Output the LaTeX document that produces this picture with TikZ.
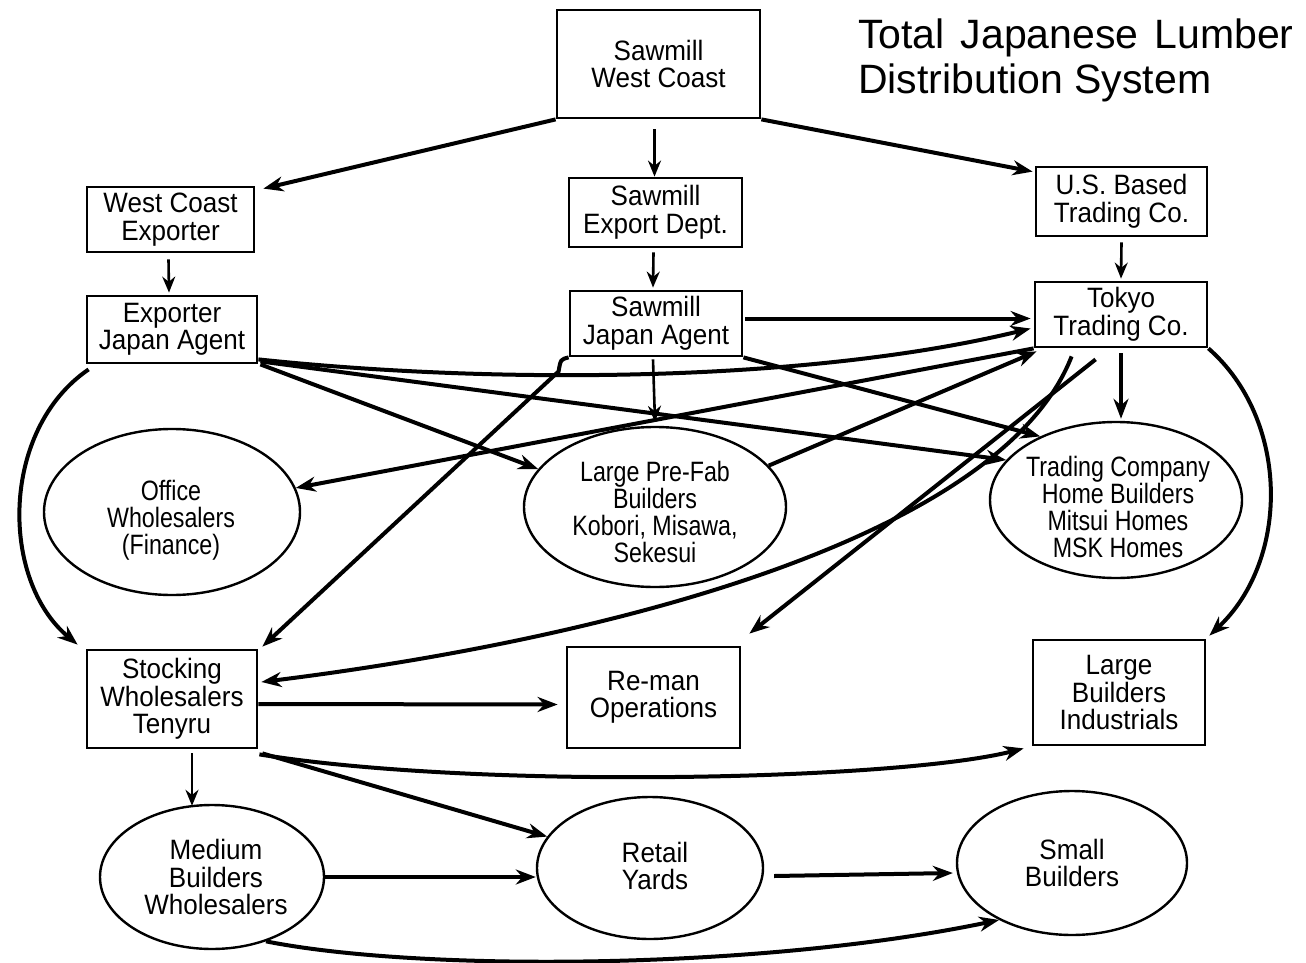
\documentclass[tikz,border=0pt]{standalone}
\usepackage{fontspec}
\setmainfont{Liberation Sans}
\newfontfamily\bxfamily{Liberation Sans}[FakeStretch=0.93]
\newfontfamily\cdfamily{Liberation Sans}[FakeStretch=0.83]
\newcommand\bxfont{\bxfamily\fontsize{28}{27.5}\selectfont}
\newcommand\cdfont{\cdfamily\fontsize{28}{27}\selectfont}
\newcommand\ttlfont{\fontsize{41}{45}\selectfont}
\usetikzlibrary{arrows.meta,calc,shapes.geometric}
\tikzset{
  boxnode/.style={draw, line width=2.8pt, rectangle, align=center, inner sep=0pt, font=\bxfont},
  ellnode/.style={draw, line width=2.4pt, ellipse, inner sep=0pt},
  elltext/.style={align=center, inner sep=0pt},
  conn/.style={line width=4pt, -{Stealth[length=20pt,width=15pt]}},
  thinconn/.style={line width=2.6pt, -{Stealth[length=16pt,width=13pt]}},
}
\begin{document}
\begin{tikzpicture}[x=1pt,y=-1pt]
\useasboundingbox[fill=white] (0,0) rectangle (1306,963);
% title
\node[anchor=north west, align=left, inner sep=0pt, font=\ttlfont] (title) at (858,19)
  {Total\hspace{16pt}Japanese\hspace{16pt}Lumber\\Distribution System};
% boxes
\node[boxnode, minimum width=203pt, minimum height=108pt] (sawWC) at (658.5,64) {Sawmill\\West Coast};
\node[boxnode, minimum width=167pt, minimum height=65pt] (wcExp) at (170.5,219.5) {West Coast\\Exporter};
\node[boxnode, minimum width=173pt, minimum height=69pt] (sawExp) at (655.5,212.5) {Sawmill\\Export Dept.};
\node[boxnode, minimum width=171pt, minimum height=69pt] (usTrade) at (1121.5,201.5) {U.S. Based\\Trading Co.};
\node[boxnode, minimum width=170pt, minimum height=67pt] (expJA) at (172,329.5) {Exporter\\Japan Agent};
\node[boxnode, minimum width=172pt, minimum height=65pt] (sawJA) at (656,323.5) {Sawmill\\Japan Agent};
\node[boxnode, minimum width=172pt, minimum height=65pt] (tokyo) at (1121,314.5) {Tokyo\\Trading Co.};
\node[boxnode, minimum width=170pt, minimum height=98pt] (stocking) at (172,699) {Stocking\\Wholesalers\\Tenyru};
\node[boxnode, minimum width=173pt, minimum height=101pt] (reman) at (653.5,697.5) {Re-man\\Operations};
\node[boxnode, minimum width=172pt, minimum height=105pt] (largeB) at (1119,692.5) {Large\\Builders\\Industrials};
% ellipses
\node[ellnode, minimum width=256pt, minimum height=166pt] (office) at (172,512) {};
\node[elltext, font=\cdfont] (officetxt) at (171,520) {Office\\Wholesalers\\(Finance)};
\node[ellnode, minimum width=262pt, minimum height=160pt] (prefab) at (655,507) {};
\node[elltext, font=\cdfont] (prefabtxt) at (655,512) {Large Pre-Fab\\Builders\\Kobori, Misawa,\\Sekesui};
\node[ellnode, minimum width=252pt, minimum height=156pt] (tchb) at (1116,500) {};
\node[elltext, font=\cdfont] (tchbtxt) at (1118,507) {Trading Company\\Home Builders\\Mitsui Homes\\MSK Homes};
\node[ellnode, minimum width=224pt, minimum height=144pt] (medium) at (212,877) {};
\node[elltext, font=\bxfont] (mediumtxt) at (216,877) {Medium\\Builders\\Wholesalers};
\node[ellnode, minimum width=226pt, minimum height=142pt] (retail) at (650,868) {};
\node[elltext, font=\bxfont] (retailtxt) at (655,866) {Retail\\Yards};
\node[ellnode, minimum width=230pt, minimum height=144pt] (small) at (1072,863) {};
\node[elltext, font=\bxfont] (smalltxt) at (1072,863) {Small\\Builders};
% connectors, top part
\draw[conn] (sawWC.south west) -- ($(wcExp.north east)+(8,3)$);
\draw[thinconn] ($(sawWC.south)+(-4,10)$) -- ($(sawExp.north)+(-1,0)$);
\draw[conn] (sawWC.south east) -- ($(usTrade.north west)+(-2,6)$);
\draw[thinconn] ($(wcExp.south)+(-2,6)$) -- ($(expJA.north)+(-3,-2)$);
\draw[thinconn] ($(sawExp.south)+(-2,4)$) -- ($(sawJA.north)+(-3,-2)$);
\draw[thinconn] ($(usTrade.south)+(0,5)$) -- ($(tokyo.north)+(0,-2)$);
\draw[conn] ($(sawJA.east)+(2,-5)$) -- ($(tokyo.west)+(-3,4)$);
\draw[thinconn] ($(sawJA.south)+(-3,2)$) -- ($(prefab.north)+(0,-4)$);
\draw[conn] ($(tokyo.south)+(0,5)$) -- ($(tchb.north)+(5,-2)$);
\draw[conn] (tokyo.south east) .. controls (1290,420) and (1290,560) .. ($(largeB.north east)+(3,-3)$);
\draw[conn] ($(expJA.south west)+(3,5)$) .. controls (0,430) and (0,580) .. ($(stocking.north west)+(-8,-4)$);
% crossing lines
\draw[conn] ($(expJA.south east)+(2,0)$) -- (prefab.162);
\draw[conn] ($(expJA.south east)+(0,-5)$) .. controls (500,385) and (810,382) .. ($(tokyo.west)+(-3,14)$);
\draw[conn] ($(expJA.south east)+(2,-3)$) -- (tchb.160);
\draw[conn] (sawJA.south east) -- (tchb.140);
\draw[conn] (tokyo.south west) -- (office.11);
\draw[conn] (prefab.20) -- ($(tokyo.south west)+(3,3)$);
\draw[conn] (sawJA.south west) .. controls ($(sawJA.south west)+(-8,2)$) .. ($(sawJA.south west)+(-10,14)$) -- ($(stocking.north east)+(4,-2)$);
\draw[conn] ($(tokyo.south west)+(38,8)$) .. controls (1000,540) and (600,640) .. ($(stocking.east)+(3,-17)$);
\draw[conn] ($(tokyo.south west)+(62,11)$) -- ($(reman.north east)+(8,-12)$);
% lower part
\draw[conn] ($(stocking.east)+(0,5)$) -- ($(reman.west)+(-8,7)$);
\draw[conn] ($(stocking.south east)+(1,5)$) .. controls (480,790) and (900,780) .. ($(largeB.south west)+(-8,2)$);
\draw[conn] ($(stocking.south east)+(4,4)$) -- (retail.163);
\draw[thinconn] ($(stocking.south)+(20,4)$) -- ($(medium.north)+(-20,2)$);
\draw[conn] (medium.east) -- ($(retail.west)+(0,9)$);
\draw[conn] ($(retail.east)+(10,8)$) -- ($(small.west)+(-3,10)$);
\draw[conn] (medium.-50) .. controls (420,972) and (760,970) .. (small.-142);
\end{tikzpicture}
\end{document}
